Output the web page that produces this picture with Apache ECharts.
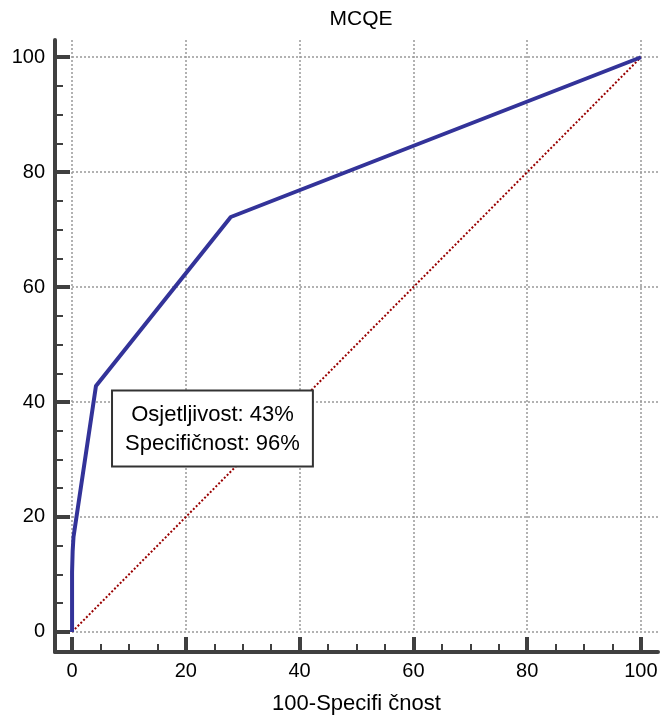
<!DOCTYPE html>
<html>
<head>
<meta charset="utf-8">
<script src="https://cdn.jsdelivr.net/npm/echarts@6/dist/echarts.min.js"></script>
<style>
html,body{margin:0;padding:0;background:#fff;}
#chart{width:662px;height:720px;}
</style>
</head>
<body>
<div id="chart"></div>
<script>
// ROC curve data (100-Specificity, Sensitivity)
const fpr = [0, 0, 0.1, 0.25, 4.2, 27.9, 100];
const tpr = [0, 10.4, 14, 16.5, 42.8, 72.2, 100];
// reference diagonal
const diagX = [0, 100];
const diagY = [0, 100];
// criterion point
const criterionIndex = 4;
const sensitivity = 43;
const specificity = 96;
// tick labels
const majorTicks = [0, 20, 40, 60, 80, 100];
const minorPerInterval = 4;
const titleText = 'MCQE';
const xName = '100-Specifi čnost';

const FONT = '"Liberation Sans", Arial, sans-serif';
const AX = '#404040';

const minorTicks = [];
for (let i = 1; i < majorTicks.length; i++) {
  const a = majorTicks[i - 1], b = majorTicks[i];
  for (let k = 1; k < minorPerInterval; k++) minorTicks.push(a + (b - a) * k / minorPerInterval);
}

const chart = echarts.init(document.getElementById('chart'), null, {renderer: 'canvas'});

const rocData = fpr.map((x, i) => [x, tpr[i]]);
const diagData = diagX.map((x, i) => [x, diagY[i]]);
const critData = [[fpr[criterionIndex], tpr[criterionIndex]]];

const X_MIN = -3, X_MAX = 103, Y_MIN = -3.5, Y_MAX = 103;

const hidden = {axisLabel: {show: false}, splitLine: {show: false}};

const option = {
  animation: false,
  backgroundColor: '#fff',
  title: {
    text: titleText,
    left: 356,
    top: 4,
    textAlign: 'center',
    textStyle: {fontFamily: FONT, fontSize: 21, fontWeight: 'normal', color: '#000'}
  },
  grid: [
    {left: 55, right: 4, top: 40, bottom: 68},   // main plot with axes
    {left: 72, right: 4, top: 40, bottom: 88}    // gridlines from 0 to the end
  ],
  xAxis: [
    {gridIndex: 0, type: 'value', min: X_MIN, max: X_MAX, position: 'bottom',
     name: xName, nameLocation: 'middle', nameGap: 41,
     nameTextStyle: {fontFamily: FONT, fontSize: 22, color: '#000'},
     axisLine: {show: true, onZero: false, lineStyle: {color: AX, width: 4}},
     axisTick: {show: true, inside: true, length: 15, customValues: majorTicks, lineStyle: {color: AX, width: 4}},
     axisLabel: {show: true, margin: 9, customValues: majorTicks, fontFamily: FONT, fontSize: 20, color: '#000'},
     splitLine: {show: false}},
    Object.assign({gridIndex: 0, type: 'value', min: X_MIN, max: X_MAX, position: 'bottom', offset: 0}, hidden, {
     axisLine: {show: false, onZero: false},
     axisTick: {show: true, inside: true, length: 8, customValues: minorTicks, lineStyle: {color: AX, width: 2}}}),
    {gridIndex: 1, type: 'value', min: 0, max: 103, interval: 20,
     axisLine: {show: false}, axisTick: {show: false}, axisLabel: {show: false},
     splitLine: {show: true, showMaxLine: false, lineStyle: {color: '#999', width: 1.5, type: [2, 2]}}}
  ],
  yAxis: [
    {gridIndex: 0, type: 'value', min: Y_MIN, max: Y_MAX, position: 'left',
     axisLine: {show: true, onZero: false, lineStyle: {color: AX, width: 4}},
     axisTick: {show: true, inside: true, length: 15, customValues: majorTicks, lineStyle: {color: AX, width: 4}},
     axisLabel: {show: true, margin: 10, customValues: majorTicks, fontFamily: FONT, fontSize: 20, color: '#000'},
     splitLine: {show: false}},
    Object.assign({gridIndex: 0, type: 'value', min: Y_MIN, max: Y_MAX, position: 'left', offset: 0}, hidden, {
     axisLine: {show: false, onZero: false},
     axisTick: {show: true, inside: true, length: 8, customValues: minorTicks, lineStyle: {color: AX, width: 2}}}),
    {gridIndex: 1, type: 'value', min: 0, max: 103, interval: 20,
     axisLine: {show: false}, axisTick: {show: false}, axisLabel: {show: false},
     splitLine: {show: true, showMaxLine: false, lineStyle: {color: '#999', width: 1.5, type: [2, 2]}}}
  ],
  series: [
    {
      type: 'line', xAxisIndex: 0, yAxisIndex: 0, data: diagData,
      symbol: 'none', clip: false, z: 3,
      lineStyle: {color: '#990000', width: 2, type: [2, 2]}
    },
    {
      type: 'line', xAxisIndex: 0, yAxisIndex: 0, data: rocData,
      symbol: 'none', clip: false, z: 4,
      lineStyle: {color: '#333399', width: 4, join: 'round'}
    },
    {
      type: 'scatter', xAxisIndex: 0, yAxisIndex: 0, data: critData,
      symbolSize: 1, itemStyle: {color: 'rgba(0,0,0,0)', opacity: 1}, z: 10, clip: false,
      emphasis: {disabled: true},
      label: {
        show: true,
        position: [117, 6],
        align: 'center',
        verticalAlign: 'top',
        formatter: () => 'Osjetljivost: ' + sensitivity + '%\nSpecifičnost: ' + specificity + '%',
        fontFamily: FONT, fontSize: 22, lineHeight: 29, color: '#000', opacity: 1,
        backgroundColor: '#fff', borderColor: '#333', borderWidth: 2,
        padding: [9, 12, 7, 12]
      }
    }
  ]
};
chart.setOption(option);
</script>
</body>
</html>
